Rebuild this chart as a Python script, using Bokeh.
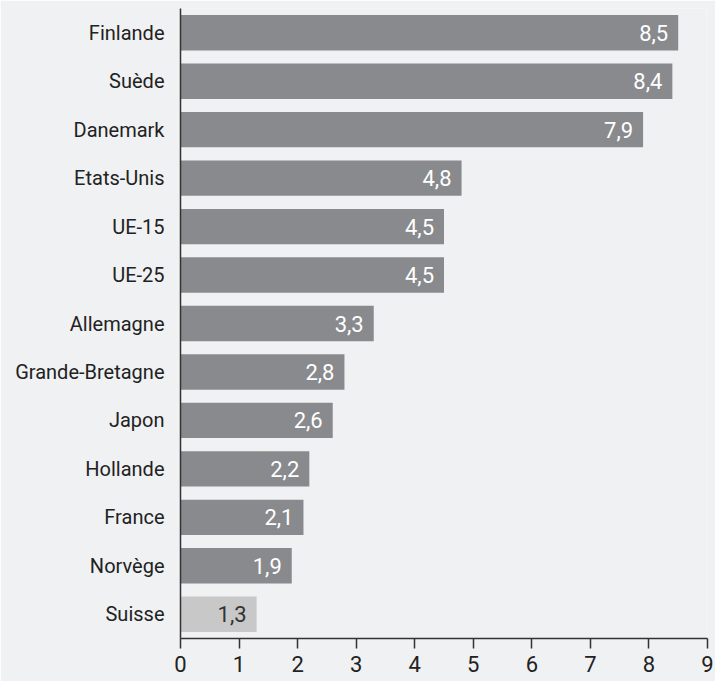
from bokeh.plotting import figure
from bokeh.models import ColumnDataSource, FactorRange, Range1d, LabelSet, FixedTicker
from bokeh.core.properties import value
from bokeh.embed import file_html
from bokeh.resources import INLINE

countries = ["Finlande", "Suède", "Danemark", "Etats-Unis", "UE-15", "UE-25", "Allemagne",
             "Grande-Bretagne", "Japon", "Hollande", "France", "Norvège", "Suisse"]
values = [8.5, 8.4, 7.9, 4.8, 4.5, 4.5, 3.3, 2.8, 2.6, 2.2, 2.1, 1.9, 1.3]
x_ticks = [0, 1, 2, 3, 4, 5, 6, 7, 8, 9]

BG = "#f0f1f3"
colors = ["#898a8d"] * (len(countries) - 1) + ["#c8c8c9"]
label_colors = ["#ffffff"] * (len(countries) - 1) + ["#333333"]
labels = [f"{v:.1f}".replace(".", ",") for v in values]

source = ColumnDataSource(dict(country=countries, value=values, color=colors,
                               label=labels, lcolor=label_colors))

p = figure(frame_width=527, frame_height=630, output_backend="svg", toolbar_location=None,
           y_range=FactorRange(factors=list(reversed(countries)), range_padding=0),
           x_range=Range1d(0, 9),
           min_border_left=180, min_border_right=8, min_border_top=8, min_border_bottom=43)

p.background_fill_color = BG
p.border_fill_color = BG
p.outline_line_color = None
p.grid.grid_line_color = None

p.hbar(y="country", right="value", left=0, height=0.73, fill_color="color",
       line_color=None, source=source)

lbl = LabelSet(x="value", y="country", text="label", source=source, x_offset=-10,
               text_align="right", text_baseline="middle", text_color="lcolor",
               text_font=value("Roboto"), text_font_size="22px")
p.add_layout(lbl)

p.xaxis.ticker = FixedTicker(ticks=x_ticks)
p.xaxis.axis_line_color = "#333333"
p.xaxis.axis_line_width = 1.5
p.xaxis.major_tick_line_color = "#333333"
p.xaxis.major_tick_line_width = 1.5
p.xaxis.major_tick_in = 0
p.xaxis.major_tick_out = 10
p.xaxis.minor_tick_line_color = None
p.xaxis.major_label_text_font = "Roboto"
p.xaxis.major_label_text_font_size = "22px"
p.xaxis.major_label_text_color = "#222222"
p.xaxis.major_label_standoff = 7

p.yaxis.axis_line_color = "#333333"
p.yaxis.axis_line_width = 1.5
p.yaxis.major_tick_line_color = None
p.yaxis.minor_tick_line_color = None
p.yaxis.major_label_text_font = "Roboto"
p.yaxis.major_label_text_font_size = "20px"
p.yaxis.major_label_text_color = "#222222"
p.yaxis.major_label_standoff = 10

open("out.html", "w").write(file_html(p, INLINE))
